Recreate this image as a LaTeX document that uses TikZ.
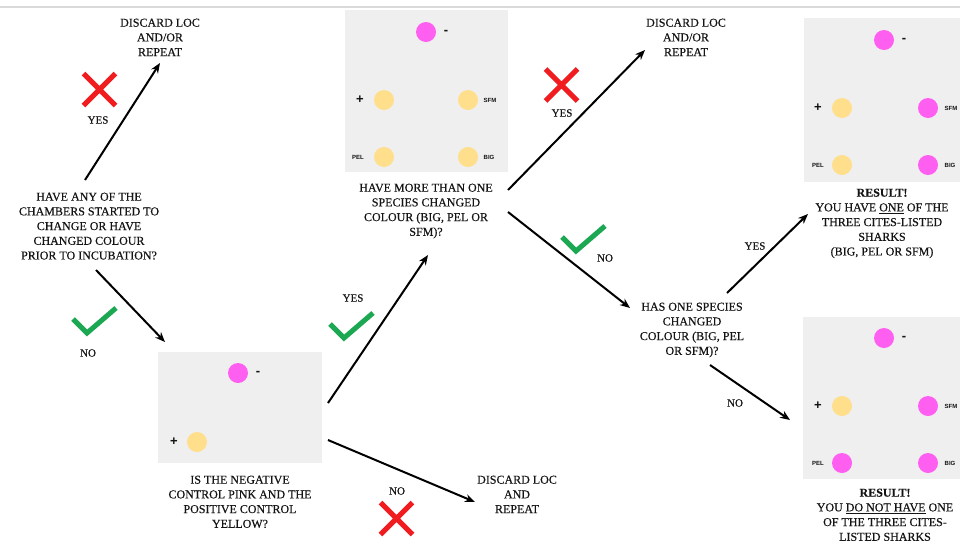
\documentclass[tikz,border=0pt]{standalone}
\usepackage{fontspec}
\setmainfont{Liberation Serif}[FakeBold=0.35]
\newfontfamily\chipfont{Liberation Sans}
\usetikzlibrary{arrows.meta}
\definecolor{panel}{RGB}{239,239,239}
\definecolor{pinkdot}{RGB}{255,95,240}
\definecolor{yellowdot}{RGB}{255,222,140}
\definecolor{crossred}{RGB}{240,28,32}
\definecolor{tickgreen}{RGB}{28,168,82}
\definecolor{ink}{RGB}{20,20,20}

\begin{document}
\begin{tikzpicture}[x=1pt,y=-1pt,
  txt/.style={align=center, font=\fontsize{12}{14.7}\selectfont, text=ink, inner sep=0pt, anchor=north},
  lbl/.style={font=\fontsize{11}{13}\selectfont, text=ink, inner sep=0pt},
  panelbox/.style={fill=panel, draw=none, inner sep=0pt, anchor=north west},
  dot/.style={circle, minimum size=20pt, inner sep=0pt},
  pinkd/.style={dot, fill=pinkdot},
  yeld/.style={dot, fill=yellowdot},
  chip/.style={font=\chipfont\bfseries\fontsize{6}{6}\selectfont, text=ink, inner sep=0pt},
  sign/.style={font=\chipfont\bfseries\fontsize{13}{13}\selectfont, text=ink, inner sep=0pt},
  flow/.style={line width=2pt, -{Stealth[length=10pt,width=8pt]}},
  redcross/.pic={\draw[crossred, line width=5pt] (-16,-16)--(16,16) (-16,16)--(16,-16);},
  greentick/.pic={\draw[tickgreen, line width=5pt, line join=miter] (0,0)--(14,14)--(43,-11);}
]
\useasboundingbox (0,0) rectangle (960,547);
\fill[white] (0,0) rectangle (960,547);

% thin rule along the top
\draw[black!15, line width=1.5pt] (0,7) -- (960,7);

% ---------- panels with test chambers ----------
% panel 1: controls only
\node[panelbox, minimum width=164pt, minimum height=111pt] (p1) at (158,352) {};
\node[pinkd] (p1neg) at (238,373) {};
\node[sign] at (258,373) {-};
\node[yeld] (p1pos) at (197,442) {};
\node[sign] at (174,442) {+};

% panel 2: controls and three species, none changed
\node[panelbox, minimum width=163pt, minimum height=162pt] (p2) at (345,10) {};
\node[pinkd] (p2neg) at (426,32) {};
\node[sign] at (446,32) {-};
\node[yeld] (p2pos) at (384,100) {};
\node[sign] at (360,100) {+};
\node[yeld] (p2sfm) at (468,100) {};
\node[chip] at (490,100) {SFM};
\node[yeld] (p2pel) at (384,157) {};
\node[chip] at (358,157) {PEL};
\node[yeld] (p2big) at (468,157) {};
\node[chip] at (489,157) {BIG};

% panel 3: two species changed
\node[panelbox, minimum width=156pt, minimum height=164pt] (p3) at (804,18) {};
\node[pinkd] (p3neg) at (884,40) {};
\node[sign] at (904,40) {-};
\node[yeld] (p3pos) at (842,108) {};
\node[sign] at (818,108) {+};
\node[pinkd] (p3sfm) at (928,108) {};
\node[chip] at (951,108) {SFM};
\node[yeld] (p3pel) at (842,165) {};
\node[chip] at (818,165) {PEL};
\node[pinkd] (p3big) at (928,165) {};
\node[chip] at (950,165) {BIG};

% panel 4: no species changed
\node[panelbox, minimum width=157pt, minimum height=162pt] (p4) at (803,317) {};
\node[pinkd] (p4neg) at (884,338) {};
\node[sign] at (904,338) {-};
\node[yeld] (p4pos) at (842,406) {};
\node[sign] at (818,406) {+};
\node[pinkd] (p4sfm) at (928,406) {};
\node[chip] at (951,406) {SFM};
\node[pinkd] (p4pel) at (842,463) {};
\node[chip] at (818,463) {PEL};
\node[pinkd] (p4big) at (928,463) {};
\node[chip] at (950,463) {BIG};

% ---------- questions and outcomes ----------
\node[txt] (d1) at (160,18.5) {DISCARD LOC\\AND/OR\\REPEAT};
\node[txt] (q1) at (89,192.5) {HAVE ANY OF THE\\CHAMBERS STARTED TO\\CHANGE OR HAVE\\CHANGED COLOUR\\PRIOR TO INCUBATION?};
\node[txt] (q2) at (240,475.5) {IS THE NEGATIVE\\CONTROL PINK AND THE\\POSITIVE CONTROL\\YELLOW?};
\node[txt] (d2) at (517,475.5) {DISCARD LOC\\AND\\REPEAT};
\node[txt] (q3) at (426,183.5) {HAVE MORE THAN ONE\\SPECIES CHANGED\\COLOUR (BIG, PEL OR\\SFM)?};
\node[txt] (d3) at (686,18.5) {DISCARD LOC\\AND/OR\\REPEAT};
\node[txt] (q4) at (692,302.5) {HAS ONE SPECIES\\CHANGED\\COLOUR (BIG, PEL\\OR SFM)?};
\node[txt] (r1) at (882,188.5) {\textbf{RESULT!}\\YOU HAVE \underline{ONE} OF THE\\THREE CITES-LISTED\\SHARKS\\(BIG, PEL OR SFM)};
\node[txt] (r2) at (885,488.5) {\textbf{RESULT!}\\YOU \underline{DO NOT HAVE} ONE\\OF THE THREE CITES-\\LISTED SHARKS};

% ---------- connector end points ----------
\coordinate (q1up)   at (85,180);
\coordinate (d1in)   at (160,63);
\coordinate (q1down) at (96,270);
\coordinate (p1in)   at (165,342);
\coordinate (p1yes)  at (328,403);
\coordinate (q3in)   at (428,255);
\coordinate (p1no)   at (328,440);
\coordinate (d2in)   at (475,502);
\coordinate (q3yes)  at (508,190);
\coordinate (d3in)   at (645,50);
\coordinate (q3no)   at (508,212);
\coordinate (q4in)   at (630,308);
\coordinate (q4yes)  at (727,293);
\coordinate (r1in)   at (808,214);
\coordinate (q4no)   at (710,365);
\coordinate (p4in)   at (790,420);

\draw[flow] (q1up) -- (d1in);
\draw[flow] (q1down) -- (p1in);
\draw[flow] (p1yes) -- (q3in);
\draw[flow] (p1no) -- (d2in);
\draw[flow] (q3yes) -- (d3in);
\draw[flow] (q3no) -- (q4in);
\draw[flow] (q4yes) -- (r1in);
\draw[flow] (q4no) -- (p4in);

% ---------- answer labels ----------
\node[lbl] (l1) at (98,120) {YES};
\node[lbl] (l2) at (88,353) {NO};
\node[lbl] (l3) at (353,298) {YES};
\node[lbl] (l4) at (397,491) {NO};
\node[lbl] (l5) at (562,113) {YES};
\node[lbl] (l6) at (605,258) {NO};
\node[lbl] (l7) at (755,246) {YES};
\node[lbl] (l8) at (735,403) {NO};

% ---------- marks ----------
\pic at (99.5,89.5) {redcross};
\pic at (396.5,518.5) {redcross};
\pic at (561.5,85) {redcross};
\pic at (73,319) {greentick};
\pic at (330,324) {greentick};
\pic at (562,237) {greentick};
\end{tikzpicture}
\end{document}
